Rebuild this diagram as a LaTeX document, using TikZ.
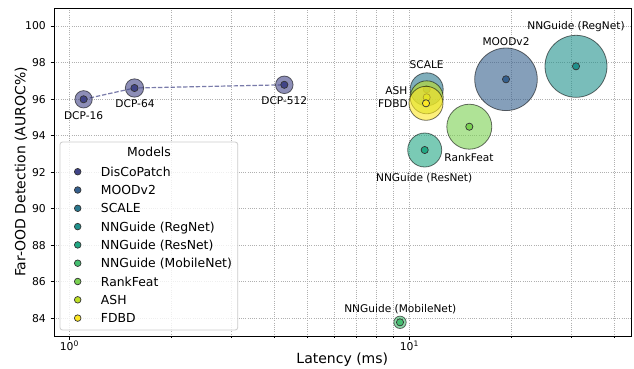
\documentclass[tikz,border=0pt]{standalone}
\usepackage{fontspec}
\setmainfont{DejaVu Sans}
\definecolor{cDCP}{HTML}{414487}
\definecolor{cMOOD}{HTML}{355F8D}
\definecolor{cSCALE}{HTML}{2A788E}
\definecolor{cReg}{HTML}{21918C}
\definecolor{cRes}{HTML}{22A884}
\definecolor{cMob}{HTML}{44BF70}
\definecolor{cRank}{HTML}{7AD151}
\definecolor{cASH}{HTML}{BDDF26}
\definecolor{cFDBD}{HTML}{FDE725}
\definecolor{gridgray}{HTML}{B0B0B0}
\newcommand{\ticksize}{\fontsize{10.8}{12}\selectfont}
\newcommand{\annsize}{\fontsize{10.6}{12}\selectfont}
\newcommand{\legsize}{\fontsize{12.4}{14}\selectfont}
\newcommand{\labsize}{\fontsize{14}{16}\selectfont}
\begin{document}
\begin{tikzpicture}[x=1pt,y=-1pt,
  gridline/.style={gridgray, line width=0.7pt, dash pattern=on 1pt off 1.2pt},
  frame/.style={black, line width=0.9pt},
  tickmark/.style={black, line width=0.8pt},
  bubble/.style={circle, draw=black, draw opacity=0.55, fill opacity=0.6, line width=0.8pt, inner sep=0pt, minimum size=#1},
  dot/.style={circle, draw=black!80, line width=0.7pt, inner sep=0pt, minimum size=7.2pt},
  legdot/.style={circle, draw=black!80, line width=0.7pt, inner sep=0pt, minimum size=6.6pt},
  ann/.style={font=\annsize, inner sep=0pt, anchor=base},
  annr/.style={font=\annsize, inner sep=0pt, anchor=base east},
  ytick/.style={font=\ticksize, inner sep=0pt, anchor=east},
  xtick/.style={font=\ticksize, inner sep=0pt, anchor=north},
  legtext/.style={font=\legsize, inner sep=0pt, anchor=base west},
  dcpline/.style={cDCP, draw opacity=0.7, line width=1.2pt, dash pattern=on 4.4pt off 1.9pt},
  legbox/.style={draw=black!20, line width=0.8pt, fill=white, fill opacity=0.8, rounded corners=2.5pt, inner sep=0pt, minimum width=177.7pt, minimum height=188pt}
]
\useasboundingbox (0,0) rectangle (634,368);
\fill[white] (0,0) rectangle (634,368);

% grid
\foreach \y in {26,62.5,99.1,135.6,172.2,208.7,245.2,281.8,318.3}
  \draw[gridline] (54,\y) -- (631,\y);
\foreach \x in {69.3,171.6,231.5,274,306.9,333.9,356.6,376.4,393.7,409.3,511.6,571.5,614}
  \draw[gridline] (\x,8) -- (\x,336);

% DisCoPatch line
\coordinate (l16) at (83.6,99.3);
\coordinate (l64) at (134.5,88);
\coordinate (l512) at (284.3,84.8);
\draw[dcpline] (l16) -- (l64) -- (l512);

% bubbles and dots in plotting order
\node[bubble=17.4pt, fill=cDCP] (b16) at (l16) {};
\node[dot, fill=cDCP] (d16) at (l16) {};
\node[bubble=18.4pt, fill=cDCP] (b64) at (l64) {};
\node[dot, fill=cDCP] (d64) at (l64) {};
\node[bubble=17.6pt, fill=cDCP] (b512) at (l512) {};
\node[dot, fill=cDCP] (d512) at (l512) {};

\node[bubble=62.6pt, fill=cMOOD] (bmood) at (506,79.3) {};
\node[dot, fill=cMOOD] (dmood) at (506,79.3) {};

\node[bubble=33pt, fill=cSCALE] (bscale) at (426.7,89.3) {};
\node[dot, fill=cSCALE] (dscale) at (426.7,89.3) {};

\node[bubble=62pt, fill=cReg] (breg) at (576,66.3) {};
\node[dot, fill=cReg] (dreg) at (576,66.3) {};

\node[bubble=34pt, fill=cRes] (bres) at (424.7,150) {};
\node[dot, fill=cRes] (dres) at (424.7,150) {};

\node[bubble=12.4pt, fill=cMob] (bmob) at (400,322.3) {};
\node[dot, fill=cMob] (dmob) at (400,322.3) {};

\node[bubble=45pt, fill=cRank] (brank) at (469.3,126.7) {};
\node[dot, fill=cRank] (drank) at (469.3,126.7) {};

\node[bubble=33pt, fill=cASH] (bash) at (426.7,97.3) {};
\node[dot, fill=cASH] (dashdot) at (426.7,97.3) {};

\node[bubble=34pt, fill=cFDBD] (bfdbd) at (426,103.3) {};
\node[dot, fill=cFDBD] (dfdbd) at (426,103.3) {};

% annotations
\node[ann] (t16) at (83.6,119.4) {DCP-16};
\node[ann] (t64) at (135,107.5) {DCP-64};
\node[ann] (t512) at (284.3,104.5) {DCP-512};
\node[ann] (treg) at (576,29.1) {NNGuide (RegNet)};
\node[ann] (tmood) at (506,45.5) {MOODv2};
\node[ann] (tscale) at (426.7,68.8) {SCALE};
\node[annr] (tash) at (407.5,94.5) {ASH};
\node[annr] (tfdbd) at (408,107.8) {FDBD};
\node[ann] (trank) at (469,161.1) {RankFeat};
\node[ann] (tres) at (424.2,181.6) {NNGuide (ResNet)};
\node[ann] (tmob) at (400.3,312.5) {NNGuide (MobileNet)};

% legend
\node[legbox] (legend) at (148.85,236) {};
\node[font=\legsize, inner sep=0pt, anchor=base] (legtitle) at (149,156.9) {Models};
\foreach \c/\t [count=\i from 0] in {cDCP/DisCoPatch, cMOOD/MOODv2, cSCALE/SCALE, cReg/NNGuide (RegNet), cRes/NNGuide (ResNet), cMob/NNGuide (MobileNet), cRank/RankFeat, cASH/ASH, cFDBD/FDBD}{
  \node[legdot, fill=\c] (lm\i) at (77.7,171.7+18.3*\i) {};
  \node[legtext] (lt\i) at (100.7,176.2+18.3*\i) {\t};
}

% frame
\draw[frame] (54,8) rectangle (631,336);

% y ticks
\foreach \y/\v in {26/100,62.5/98,99.1/96,135.6/94,172.2/92,208.7/90,245.2/88,281.8/86,318.3/84}{
  \draw[tickmark] (50.5,\y) -- (54,\y);
  \node[ytick] at (46,\y) {\v};
}
% x ticks
\foreach \x in {69.3,409.3}
  \draw[tickmark] (\x,336) -- (\x,339.5);
\foreach \x in {171.6,231.5,274,306.9,333.9,356.6,376.4,393.7,511.6,571.5,614}
  \draw[tickmark, line width=0.6pt] (\x,336) -- (\x,338);
\node[xtick] (x0) at (69.3,340.5) {10\textsuperscript{0}};
\node[xtick] (x1) at (409.3,340.5) {10\textsuperscript{1}};

% axis labels
\node[font=\labsize, inner sep=0pt] (xlab) at (342.3,360) {Latency (ms)};
\node[font=\labsize, inner sep=0pt, rotate=90] (ylab) at (21,172) {Far-OOD Detection (AUROC\%)};
\end{tikzpicture}
\end{document}
